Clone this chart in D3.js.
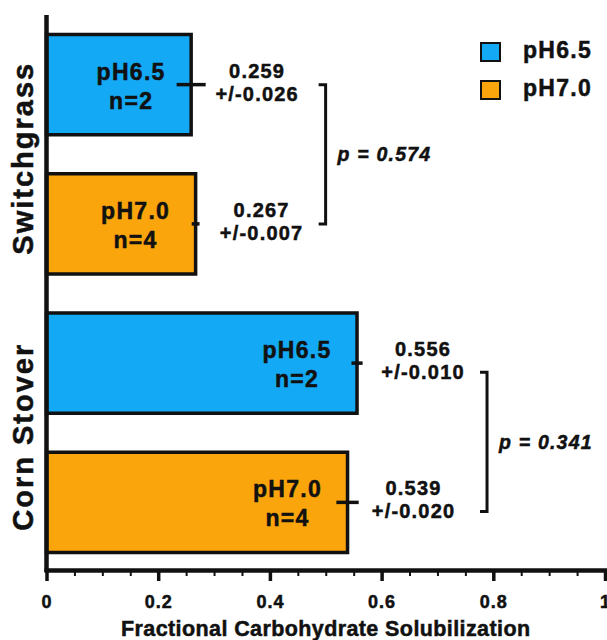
<!DOCTYPE html>
<html>
<head>
<meta charset="utf-8">
<script src="https://cdn.jsdelivr.net/npm/d3@7"></script>
<style>
  body { margin: 0; background: #fff; }
  svg text { font-family: "Liberation Sans", Arial, sans-serif; font-weight: bold; fill: #111; stroke: #111; stroke-width: 0.5px; }
</style>
</head>
<body>
<div id="chart"></div>
<script>
"use strict";
const categories = ["Switchgrass", "Corn Stover"];
const conditions = ["pH6.5", "pH7.0"];
const means = [[0.259, 0.267], [0.556, 0.539]];
const errors = [[0.026, 0.007], [0.010, 0.020]];
const nValues = [[2, 4], [2, 4]];
const pValues = ["0.574", "0.341"];
const xTicks = [0, 0.2, 0.4, 0.6, 0.8, 1];
const colors = ["#14A9F4", "#FBA50D"];

const W = 607, H = 640;
const svg = d3.select("#chart").append("svg").attr("width", W).attr("height", H);

const rows = [];
categories.forEach((c, gi) => conditions.forEach((cond, ci) => rows.push({
  key: c + "|" + cond, gi, ci, cond, mean: means[gi][ci], err: errors[gi][ci], n: nValues[gi][ci]
})));

const x = d3.scaleLinear().domain([0, 1]).range([46.5, 605]);
const y = d3.scaleBand().domain(rows.map(d => d.key)).range([15, 572]).paddingInner(0.28).paddingOuter(0.14);
const cy = d => y(d.key) + y.bandwidth() / 2;

// bars
svg.selectAll("rect.bar").data(rows).enter().append("rect")
  .attr("class", "bar")
  .attr("x", x(0))
  .attr("y", d => y(d.key))
  .attr("width", d => x(d.mean) - x(0))
  .attr("height", y.bandwidth())
  .attr("fill", d => colors[d.ci])
  .attr("stroke", "#111").attr("stroke-width", 3.5);

// error bars
svg.selectAll("line.err").data(rows).enter().append("line")
  .attr("x1", d => x(d.mean - d.err)).attr("x2", d => x(d.mean + d.err))
  .attr("y1", cy).attr("y2", cy)
  .attr("stroke", "#111").attr("stroke-width", 3.5);

// labels inside bars
const inLab = svg.selectAll("text.inlab").data(rows).enter().append("text")
  .attr("text-anchor", "middle")
  .style("font-size", "23px").style("letter-spacing", "1.3px");
inLab.append("tspan").attr("x", d => x(d.mean) - 60).attr("y", d => cy(d) - 5).text(d => d.cond);
inLab.append("tspan").attr("x", d => x(d.mean) - 60).attr("y", d => cy(d) + 24).text(d => "n=" + d.n);

// value labels
const valLab = svg.selectAll("text.val").data(rows).enter().append("text")
  .attr("text-anchor", "middle")
  .style("font-size", "20px").style("letter-spacing", "1.2px");
valLab.append("tspan").attr("x", d => x(d.mean) + 66).attr("y", d => cy(d) - 7).text(d => d.mean.toFixed(3));
valLab.append("tspan").attr("x", d => x(d.mean) + 66).attr("y", d => cy(d) + 16).text(d => "+/-" + d.err.toFixed(3));

// significance brackets
const bracketShift = [0, 9];
categories.forEach((c, gi) => {
  const bx = x(d3.max(means[gi])) + 130;
  const r0 = rows.find(r => r.gi === gi && r.ci === 0), r1 = rows.find(r => r.gi === gi && r.ci === 1);
  const y0 = cy(r0) + bracketShift[gi], y1 = cy(r1) + bracketShift[gi];
  svg.append("path")
    .attr("d", `M${bx - 7},${y0}H${bx}V${y1}H${bx - 7}`)
    .attr("fill", "none").attr("stroke", "#111").attr("stroke-width", 3);
  svg.append("text").attr("x", bx + 12).attr("y", (y0 + y1) / 2 + 7)
    .style("font-size", "19.5px").style("font-style", "italic").style("letter-spacing", "1.2px")
    .text("p = " + pValues[gi]);

  // category label
  const gy = (cy(r0) + cy(r1)) / 2 + 4;
  svg.append("text").attr("transform", `translate(33,${gy}) rotate(-90)`)
    .attr("text-anchor", "middle")
    .style("font-size", "29px").style("letter-spacing", "2px")
    .text(c);
});

// x axis
const minor = d3.range(0, 1.0001, 0.05);
svg.append("g").attr("transform", "translate(0,570)")
  .call(d3.axisBottom(x).tickValues(minor).tickSize(6).tickFormat(""))
  .call(g => g.select(".domain").remove())
  .call(g => g.selectAll(".tick line").attr("stroke", "#111").attr("stroke-width", 2));
const xAxis = svg.append("g").attr("transform", "translate(0,570)")
  .call(d3.axisBottom(x).tickValues(xTicks).tickSize(11).tickSizeOuter(0).tickPadding(14)
    .tickFormat(d => (d === 0 || d === 1) ? String(d) : d.toFixed(1)));
xAxis.select(".domain").attr("stroke", "#111").attr("stroke-width", 4.5)
  .attr("d", `M${x(0) - 2},0.5H${W}`);
xAxis.selectAll(".tick line").attr("stroke", "#111").attr("stroke-width", 3.5);
xAxis.selectAll(".tick text").style("font-size", "18px").style("letter-spacing", "1px")
  .attr("font-family", null).attr("fill", "#111");

// y axis line
svg.append("line").attr("x1", x(0)).attr("x2", x(0)).attr("y1", 15).attr("y2", 572)
  .attr("stroke", "#111").attr("stroke-width", 4.5);

// x axis title
svg.append("text").attr("x", (x(0) + x(1)) / 2).attr("y", 636).attr("text-anchor", "middle")
  .style("font-size", "21.5px").style("letter-spacing", "0.4px")
  .text("Fractional Carbohydrate Solubilization");

// legend
const leg = svg.selectAll("g.leg").data(conditions).enter().append("g")
  .attr("transform", (d, i) => `translate(481,${43 + i * 38})`);
leg.append("rect").attr("width", 19).attr("height", 18)
  .attr("fill", (d, i) => colors[i]).attr("stroke", "#111").attr("stroke-width", 2);
leg.append("text").attr("x", 42).attr("y", 15).style("font-size", "23px").style("letter-spacing", "1.3px").text(d => d);
</script>
</body>
</html>
